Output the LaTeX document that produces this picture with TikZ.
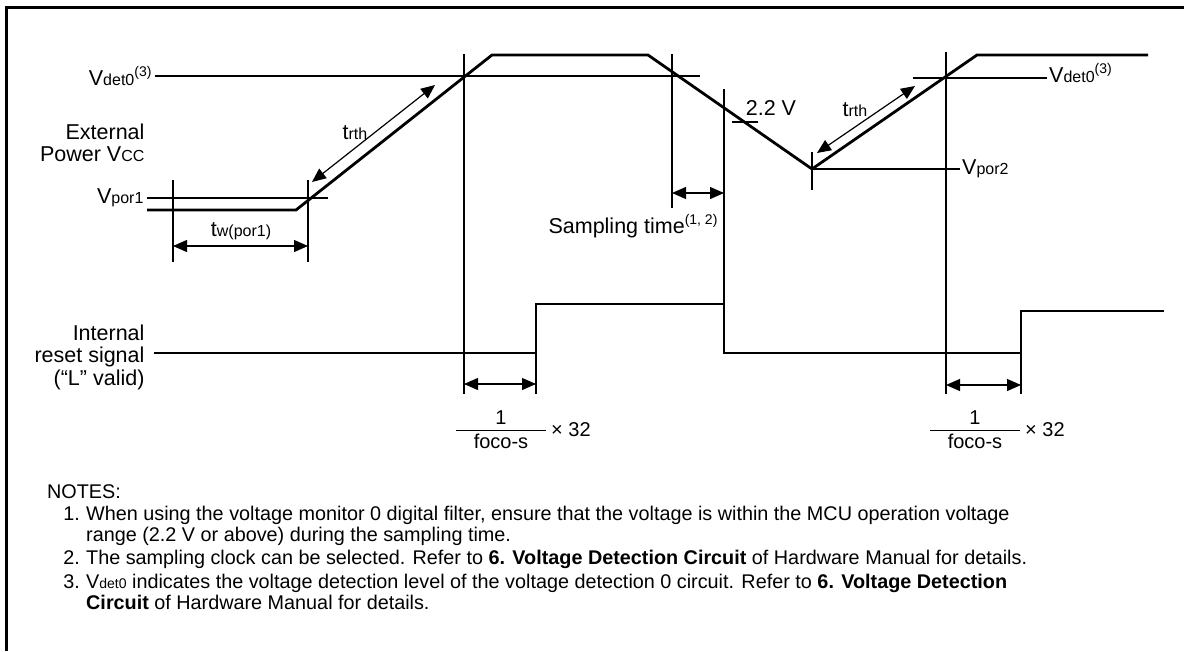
\documentclass[tikz,border=0pt]{standalone}
\usepackage{fontspec}
\setmainfont{Liberation Sans}
\usetikzlibrary{arrows.meta,positioning}
\newcommand{\sm}[1]{{\fontsize{16}{16}\selectfont #1}}
\newcommand{\ssup}[1]{\raisebox{0.75ex}{\fontsize{14}{14}\selectfont #1}}
\newcommand{\nsm}[1]{{\fontsize{14}{14}\selectfont #1}}
\begin{document}
\begin{tikzpicture}[x=1pt, y=-1pt, font=\fontsize{21.5}{22.5}\selectfont]
    \tikzstyle{wave}=[line width=2.8pt, line join=miter]
    \tikzstyle{guide}=[line width=1.2pt]
    \tikzstyle{dim}=[line width=1.2pt, {Triangle[length=14pt,width=12pt]}-{Triangle[length=14pt,width=12pt]}]
    \tikzstyle{note}=[anchor=base west, inner sep=0pt, font=\fontsize{19.8}{22}\selectfont]
    \tikzstyle{num}=[anchor=base east, inner sep=0pt, font=\fontsize{19.8}{22}\selectfont]
    \tikzstyle{frac}=[font=\fontsize{20}{20}\selectfont]
    \useasboundingbox (0,0) rectangle (1184,651);
    \draw[line width=3pt] (6.5,651) -- (6.5,7) -- (1184,7);
    % external power
    \coordinate (v0) at (147,210);
    \coordinate (v1) at (296,210);
    \coordinate (v2) at (492,55);
    \coordinate (v3) at (648,55);
    \coordinate (v4) at (812,169);
    \coordinate (v5) at (977,55);
    \coordinate (v6) at (1148,55);
    \draw[wave] (v0) -- (v1) -- (v2) -- (v3) -- (v4) -- (v5) -- (v6);
    \node[align=right, anchor=east] (vcc) at (148,143) {External\\Power V\sm{CC}};
    % internal reset
    \coordinate (r0) at (154,353);
    \coordinate (r1) at (536,353);
    \coordinate (r2) at (536,304);
    \coordinate (r3) at (724,304);
    \coordinate (r4) at (724,353);
    \coordinate (r5) at (1021,353);
    \coordinate (r6) at (1021,311);
    \coordinate (r7) at (1164,311);
    \draw[wave] (r0) -- (r1) -- (r2) -- (r3) -- (r4) -- (r5) -- (r6) -- (r7);
    \node[align=right, anchor=east] (rst) at (148,357) {Internal\\reset signal\\(“L” valid)};
    % levels
    \coordinate (dl0) at (155,76);
    \coordinate (dl1) at (700,76);
    \draw[guide] (dl0) -- (dl1);
    \node[anchor=east] (vdetA) at (dl0) {V\sm{det0}\ssup{(3)}};
    \coordinate (dr0) at (913,78);
    \coordinate (dr1) at (1047,78);
    \draw[guide] (dr0) -- (dr1);
    \node[anchor=west, inner sep=2pt] (vdetB) at ([yshift=5]dr1) {V\sm{det0}\ssup{(3)}};
    \coordinate (p0) at (147,198);
    \coordinate (p1) at (328,198);
    \draw[guide] (p0) -- (p1);
    \node[anchor=east] (vpor1) at (p0) {V\sm{por1}};
    \coordinate (q1) at (960,169);
    \draw[guide] (v4) -- (q1);
    \node[anchor=west, inner sep=2pt] (vpor2) at (q1) {V\sm{por2}};
    \draw[guide] (812,152) -- (812,190);
    % tw(por1)
    \coordinate (w0) at (173,246);
    \coordinate (w1) at (308,246);
    \draw[guide] (173,180) -- (173,262);
    \draw[guide] (308,180) -- (308,262);
    \draw[dim] (w0) -- (w1);
    \node (tw) at (241,231) {t\sm{w(por1)}};
    % trth
    \coordinate (a0) at (312,182);
    \coordinate (a1) at (435,85);
    \draw[dim] (a0) -- (a1);
    \node (trthA) at (355,133) {t\sm{rth}};
    \coordinate (b0) at (817,153);
    \coordinate (b1) at (915,86);
    \draw[dim] (b0) -- (b1);
    \node (trthB) at (855,110) {t\sm{rth}};
    % sampling time
    \draw[guide] (464,54) -- (464,394);
    \draw[guide] (946,52) -- (946,394);
    \draw[guide] (672,54) -- (672,208);
    \draw[guide] (724,89) -- (r3);
    \draw[guide] (732,122) -- (758,122);
    \node (vlow) at (771,108) {2.2 V};
    \coordinate (s0) at (672,193);
    \coordinate (s1) at (724,193);
    \draw[dim] (s0) -- (s1);
    \node (samp) at (633,226) {Sampling time\ssup{(1, 2)}};
    % reset delay
    \draw[guide] (r1) -- (536,394);
    \draw[guide] (r5) -- (1021,394);
    \draw[dim] (464,384) -- (r1 |- 0,384);
    \draw[dim] (946,385) -- (r5 |- 0,385);
    \node[minimum width=89pt, inner sep=0pt] (fracA) at (501,430) {};
    \draw[line width=0.8pt] (fracA.west) -- (fracA.east);
    \node[frac, above=1pt of fracA] {1};
    \node[frac, below=0pt of fracA] {foco-s};
    \node[frac, right=2pt of fracA] {× 32};
    \node[minimum width=89pt, inner sep=0pt] (fracB) at (975,430) {};
    \draw[line width=0.8pt] (fracB.west) -- (fracB.east);
    \node[frac, above=1pt of fracB] {1};
    \node[frac, below=0pt of fracB] {foco-s};
    \node[frac, right=2pt of fracB] {× 32};
    % notes
    \node[note] (notes) at (47,498) {NOTES:};
    \node[num] at (80,520) {1.};
    \node[note] at (86,520) {When using the voltage monitor 0 digital filter, ensure that the voltage is within the MCU operation voltage};
    \node[note] at (86,541) {range (2.2 V or above) during the sampling time.};
    \node[num] at (80,564) {2.};
    \node[note] at (86,564) {The sampling clock can be selected. Refer to \textbf{6. Voltage Detection Circuit} of Hardware Manual for details.};
    \node[num] at (80,588) {3.};
    \node[note] at (86,588) {V\nsm{det0} indicates the voltage detection level of the voltage detection 0 circuit. Refer to \textbf{6. Voltage Detection}};
    \node[note] at (86,609) {\textbf{Circuit} of Hardware Manual for details.};
\end{tikzpicture}
\end{document}
